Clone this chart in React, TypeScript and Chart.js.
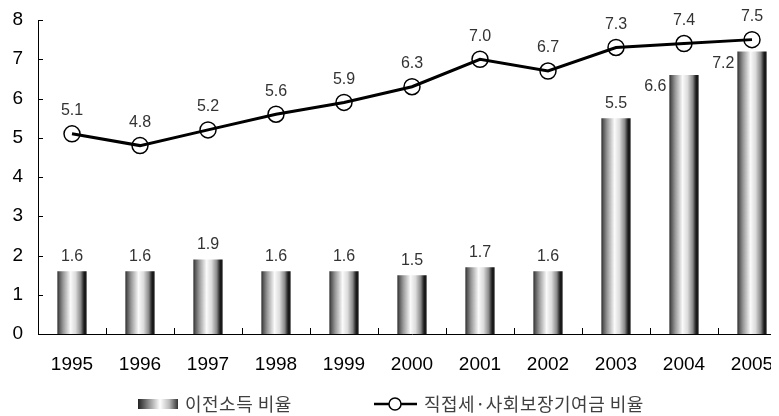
import React, { useEffect, useRef } from "react";
import { Chart, registerables } from "chart.js";

Chart.register(...registerables);

const years = ["1995", "1996", "1997", "1998", "1999", "2000", "2001", "2002", "2003", "2004", "2005"];
const transferRatio = [1.6, 1.6, 1.9, 1.6, 1.6, 1.5, 1.7, 1.6, 5.5, 6.6, 7.2];
const taxRatio = [5.1, 4.8, 5.2, 5.6, 5.9, 6.3, 7.0, 6.7, 7.3, 7.4, 7.5];
const yTickValues = [0, 1, 2, 3, 4, 5, 6, 7, 8];
const barSeriesName = "이전소득 비율";
const lineSeriesName = "직접세·사회보장기여금 비율";

const FONT = "'Liberation Sans', Arial, Helvetica, sans-serif";
const KFONT = "'Noto Sans CJK KR', 'Noto Sans', sans-serif";
const BAR_PCT = 0.43;

function barGradient(ctx: CanvasRenderingContext2D, x0: number, x1: number) {
  const g = ctx.createLinearGradient(x0, 0, x1, 0);
  g.addColorStop(0, "#2a2a2a");
  g.addColorStop(0.06, "#555");
  g.addColorStop(0.2, "#999");
  g.addColorStop(0.45, "#fafafa");
  g.addColorStop(0.62, "#dcdcdc");
  g.addColorStop(0.8, "#8a8a8a");
  g.addColorStop(0.88, "#3a3a3a");
  g.addColorStop(0.92, "#1a1a1a");
  g.addColorStop(1, "#1a1a1a");
  return g;
}

const overlayPlugin = {
  id: "overlay",
  afterDraw(chart: any) {
    const { ctx, chartArea } = chart;
    const x = chart.scales.x;
    const y = chart.scales.y;
    ctx.save();
    // tick marks (inside)
    ctx.strokeStyle = "#000";
    ctx.lineWidth = 1;
    ctx.beginPath();
    yTickValues.forEach((v) => {
      const py = Math.round(y.getPixelForValue(v)) + 0.5;
      ctx.moveTo(chartArea.left, py);
      ctx.lineTo(chartArea.left + 5, py);
    });
    for (let i = 1; i < years.length; i++) {
      const px = Math.round((x.getPixelForValue(i - 1) + x.getPixelForValue(i)) / 2) + 0.5;
      ctx.moveTo(px, chartArea.bottom);
      ctx.lineTo(px, chartArea.bottom - 6);
    }
    ctx.stroke();

    // data labels
    ctx.font = `16px ${FONT}`;
    ctx.fillStyle = "#333";
    ctx.textBaseline = "middle";
    const catW = x.width / years.length;
    const bw = catW * BAR_PCT;
    transferRatio.forEach((v, i) => {
      const cx = x.getPixelForValue(i);
      const top = y.getPixelForValue(v);
      const txt = v.toFixed(1);
      if (taxRatio[i] - v < 1.0) {
        ctx.textAlign = "right";
        ctx.fillText(txt, cx - bw / 2 - 3, top + 12);
      } else {
        ctx.textAlign = "center";
        ctx.fillText(txt, cx, top - 15);
      }
    });
    taxRatio.forEach((v, i) => {
      const cx = x.getPixelForValue(i);
      const py = y.getPixelForValue(v);
      ctx.textAlign = "center";
      ctx.fillText(v.toFixed(1), cx, py - 23);
    });

    // legend
    const ly = 396;
    const sx = 130;
    const sg = ctx.createLinearGradient(sx, 0, sx + 40, 0);
    sg.addColorStop(0, "#222");
    sg.addColorStop(0.55, "#fff");
    sg.addColorStop(0.78, "#bbb");
    sg.addColorStop(1, "#333");
    ctx.fillStyle = sg;
    ctx.fillRect(sx, ly - 5, 40, 10);
    ctx.fillStyle = "#404040";
    ctx.font = `18px ${KFONT}`;
    (ctx as any).letterSpacing = "0.5px";
    ctx.textAlign = "left";
    ctx.fillText(barSeriesName, 177, ly);

    ctx.strokeStyle = "#000";
    ctx.lineWidth = 2.5;
    ctx.beginPath();
    ctx.moveTo(366, ly);
    ctx.lineTo(381, ly);
    ctx.moveTo(393, ly);
    ctx.lineTo(409, ly);
    ctx.stroke();
    ctx.lineWidth = 1.5;
    ctx.beginPath();
    ctx.arc(387, ly, 6, 0, Math.PI * 2);
    ctx.stroke();
    ctx.fillText(lineSeriesName, 416, ly);
    ctx.restore();
  },
};

export default function App() {
  const ref = useRef<HTMLCanvasElement>(null);
  useEffect(() => {
    if (!ref.current) return;
    const chart = new Chart(ref.current, {
      type: "bar",
      data: {
        labels: years,
        datasets: [
          {
            type: "line",
            label: lineSeriesName,
            data: taxRatio,
            borderColor: "#000",
            borderWidth: 3,
            pointRadius: 8,
            pointBorderWidth: 1.5,
            pointBorderColor: "#000",
            pointBackgroundColor: "rgba(0,0,0,0)",
            tension: 0,
            order: 0,
          } as any,
          {
            type: "bar",
            label: barSeriesName,
            data: transferRatio,
            barPercentage: BAR_PCT,
            categoryPercentage: 1,
            order: 1,
            backgroundColor: (c: any) => {
              const xs = c.chart.scales?.x;
              if (!xs || !xs.width) return "#999";
              const cx = xs.getPixelForValue(c.dataIndex);
              const bw = (xs.width / years.length) * BAR_PCT;
              return barGradient(c.chart.ctx, cx - bw / 2, cx + bw / 2);
            },
          } as any,
        ],
      },
      options: {
        animation: false,
        responsive: false,
        devicePixelRatio: 1,
        layout: { padding: { top: 12, right: 12, bottom: 0, left: 0 } },
        plugins: { legend: { display: false }, tooltip: { enabled: false } },
        scales: {
          x: {
            offset: true,
            grid: { display: false, drawTicks: false },
            border: { display: true, color: "#000", width: 1 },
            ticks: { color: "#000", font: { family: FONT, size: 19 }, padding: 19, maxRotation: 0 },
            afterFit: (s: any) => {
              s.height = 82;
            },
          },
          y: {
            min: 0,
            max: 8,
            grid: { display: false, drawTicks: false },
            border: { display: true, color: "#000", width: 1 },
            ticks: { stepSize: 1, color: "#000", font: { family: FONT, size: 19 }, padding: 15 },
            afterFit: (s: any) => {
              s.width = 30;
              s.paddingTop = 0;
              s.paddingBottom = 0;
            },
          },
        },
      },
      plugins: [overlayPlugin],
    });
    return () => chart.destroy();
  }, []);
  return (
    <div style={{ width: 771, height: 408, overflow: "hidden", position: "relative" }}>
      <canvas ref={ref} width={790} height={408} style={{ width: 790, height: 408, display: "block" }} />
    </div>
  );
}
